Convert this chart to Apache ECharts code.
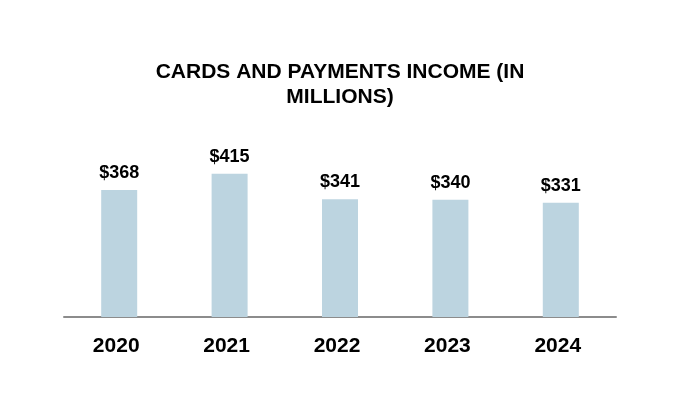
<!DOCTYPE html>
<html>
<head>
<meta charset="utf-8">
<script src="https://cdn.jsdelivr.net/npm/echarts@6/dist/echarts.min.js"></script>
<style>html,body{margin:0;padding:0;background:#fff;}#c{width:680px;height:420px;}</style>
</head>
<body>
<div id="c"></div>
<script>
const categories = ['2020', '2021', '2022', '2023', '2024'];
const values = [368, 415, 341, 340, 331];
const titleText = 'CARDS AND PAYMENTS INCOME (IN\nMILLIONS)';

const chart = echarts.init(document.getElementById('c'), null, {renderer: 'canvas'});
chart.setOption({
  animation: false,
  backgroundColor: '#ffffff',
  title: {
    text: titleText,
    left: 'center',
    top: 54.5,
    textStyle: {
      fontFamily: 'Liberation Sans, Arial, sans-serif',
      fontWeight: 'bold',
      fontSize: 21,
      lineHeight: 25,
      color: '#000000'
    }
  },
  grid: { left: 64, right: 64, top: 144.5, bottom: 103, containLabel: false },
  xAxis: {
    type: 'category',
    data: categories,
    axisLine: { show: true, lineStyle: { color: '#8c8c8c', width: 2 } },
    axisTick: { show: false },
    axisLabel: {
      margin: 19,
      padding: [0, 6, 0, 0],
      fontFamily: 'Liberation Sans, Arial, sans-serif',
      fontWeight: 'bold',
      fontSize: 21,
      color: '#000000'
    }
  },
  yAxis: {
    type: 'value',
    min: 0,
    max: 500,
    show: false,
    splitLine: { show: false }
  },
  series: [{
    type: 'bar',
    data: values,
    barWidth: 36,
    itemStyle: { color: '#bcd4e0' },
    label: {
      show: true,
      position: 'top',
      distance: 8,
      formatter: p => '$' + p.value,
      fontFamily: 'Liberation Sans, Arial, sans-serif',
      fontWeight: 'bold',
      fontSize: 18,
      color: '#000000'
    }
  }]
});
</script>
</body>
</html>
